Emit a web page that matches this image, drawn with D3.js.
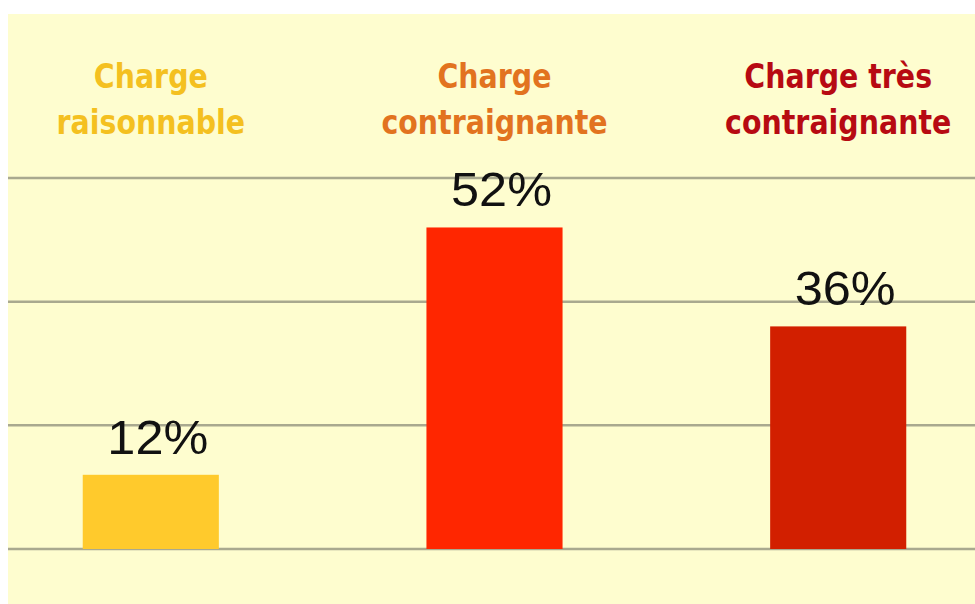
<!DOCTYPE html>
<html>
<head>
<meta charset="utf-8">
<script src="https://cdn.jsdelivr.net/npm/d3@7"></script>
<style>
  html, body { margin: 0; padding: 0; background: #ffffff; }
  svg { display: block; }
</style>
</head>
<body>
<div id="chart"></div>
<script>
// data
const categories = ["Charge raisonnable", "Charge contraignante", "Charge très contraignante"];
const titleLines = [["Charge", "raisonnable"], ["Charge", "contraignante"], ["Charge très", "contraignante"]];
const values = [12, 52, 36];
const gridTicks = [0, 20, 40, 60];

const barColors = ["#ffca2c", "#ff2600", "#d21f00"];
const titleColors = ["#f4c020", "#e2731f", "#b70a12"];

const width = 975, height = 604;

const svg = d3.select("#chart").append("svg")
  .attr("width", width)
  .attr("height", height);

// pale yellow panel
svg.append("rect")
  .attr("x", 8).attr("y", 14)
  .attr("width", width - 8).attr("height", height - 14)
  .attr("fill", "#fefdcf");

const x = d3.scaleBand()
  .domain(categories)
  .range([14, 975])
  .paddingInner(0.604)
  .paddingOuter(0.2);

const y = d3.scaleLinear()
  .domain([0, 60])
  .range([549, 178]);

// gridlines
svg.append("g")
  .selectAll("line")
  .data(gridTicks)
  .join("line")
  .attr("x1", 8).attr("x2", width)
  .attr("y1", d => y(d)).attr("y2", d => y(d))
  .attr("stroke", "#a9a98f")
  .attr("stroke-width", 2.5);

// bars
svg.append("g")
  .selectAll("rect")
  .data(values)
  .join("rect")
  .attr("x", (d, i) => x(categories[i]))
  .attr("y", d => y(d))
  .attr("width", x.bandwidth())
  .attr("height", d => y(0) - y(d))
  .attr("fill", (d, i) => barColors[i]);

// value labels
svg.append("g")
  .selectAll("text")
  .data(values)
  .join("text")
  .attr("transform", (d, i) => `translate(${x(categories[i]) + x.bandwidth() / 2 + 7},${y(d) - 21}) scale(1.05,1)`)
  .attr("text-anchor", "middle")
  .attr("font-family", "'Liberation Sans', Arial, sans-serif")
  .attr("font-size", 48)
  .attr("fill", "#111")
  .text(d => d + "%");

// category titles
const titles = svg.append("g")
  .selectAll("text")
  .data(titleLines)
  .join("text")
  .attr("transform", (d, i) => `translate(${x(categories[i]) + x.bandwidth() / 2},0) scale(0.93,1)`)
  .attr("text-anchor", "middle")
  .attr("font-family", "'DejaVu Sans Condensed', 'DejaVu Sans', sans-serif")
  .attr("font-stretch", "condensed")
  .attr("font-weight", "bold")
  .attr("font-size", 34)
  .attr("fill", (d, i) => titleColors[i]);

titles.selectAll("tspan")
  .data(d => d)
  .join("tspan")
  .attr("x", 0)
  .attr("y", (d, j) => 88 + j * 46)
  .text(d => d);
</script>
</body>
</html>
